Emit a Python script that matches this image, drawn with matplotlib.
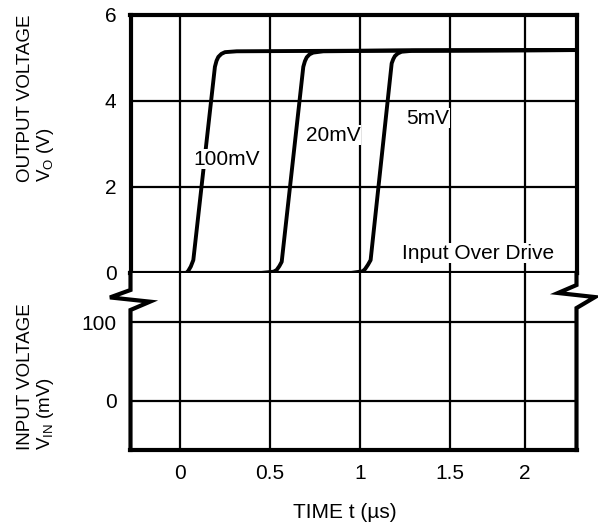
import matplotlib
matplotlib.use("Agg")
from matplotlib import pyplot as plt
from matplotlib.lines import Line2D

plt.rcParams['font.family'] = ['Liberation Sans', 'DejaVu Sans']
plt.rcParams['mathtext.default'] = 'regular'

# time ticks (the "2" grid line is drawn a little left of a uniform scale)
t_ticks = [0, 0.5, 1, 1.5, 1.917]
t_tick_labels = ['0', '0.5', '1', '1.5', '2']
vo_ticks = [0, 2, 4, 6]
vin_ticks = [0, 100]

# output response for each input over drive (t in us, Vo in V)
t_100mv = [-0.3, 0.035, 0.046, 0.060, 0.074, 0.194, 0.203, 0.213, 0.230, 0.250, 0.315, 0.8, 1.3, 2.3]
v_100mv = [0.0, 0.0, 0.05, 0.15, 0.30, 4.79, 4.93, 5.02, 5.09, 5.13, 5.15, 5.16, 5.17, 5.18]

t_20mv = [-0.3, 0.45, 0.52, 0.537, 0.552, 0.565, 0.685, 0.694, 0.704, 0.720, 0.740, 0.796, 1.3, 2.3]
v_20mv = [0.0, 0.0, 0.03, 0.07, 0.16, 0.26, 4.79, 4.92, 5.01, 5.08, 5.12, 5.15, 5.17, 5.18]

t_5mv = [-0.3, 0.95, 1.015, 1.028, 1.044, 1.059, 1.176, 1.185, 1.194, 1.210, 1.231, 1.287, 2.3]
v_5mv = [0.0, 0.0, 0.04, 0.09, 0.19, 0.30, 4.87, 4.97, 5.04, 5.10, 5.14, 5.16, 5.18]

curve_labels = ['100mV', '20mV', '5mV', 'Input Over Drive']
label_t = [0.258, 0.853, 1.378, 1.658]
label_v = [2.64, 3.20, 3.60, 0.46]

fig = plt.figure(figsize=(5.98, 5.22), dpi=100)
left, width = 130.5 / 598, 446 / 598
ax1 = fig.add_axes([left, 1 - 273 / 522, width, (273 - 14.7) / 522])
ax2 = fig.add_axes([left, 1 - 450 / 522, width, (450 - 273) / 522])

border_lw = 3.0
grid_lw = 1.6
fs = 15
label_fs = 13.5

for ax in (ax1, ax2):
    ax.set_xlim(-0.275, 2.2028)
    ax.set_xticks(t_ticks)
    ax.tick_params(length=0, labelsize=fs, pad=10)
    ax.grid(True, color='black', linewidth=grid_lw)
    ax.set_axisbelow(True)
    for sp in ax.spines.values():
        sp.set_linewidth(border_lw)

# Top panel: output voltage
ax1.set_ylim(0, 6)
ax1.set_yticks(vo_ticks)
ax1.tick_params(axis='x', labelbottom=False)
ax1.spines['bottom'].set_zorder(3)

for t, v in ((t_100mv, v_100mv), (t_20mv, v_20mv), (t_5mv, v_5mv)):
    ax1.plot(t, v, color='black', linewidth=2.8, solid_capstyle='butt', zorder=4)

for i in range(len(curve_labels)):
    ax1.text(label_t[i], label_v[i], curve_labels[i], fontsize=fs, ha='center', va='center',
             zorder=5, bbox=dict(facecolor='white', edgecolor='none', pad=0.5))

# Bottom panel: input voltage
ax2.set_ylim(-63, 163)
ax2.set_yticks(vin_ticks)
ax2.set_xticklabels(t_tick_labels)
ax2.spines['top'].set_visible(False)
ax2.spines['left'].set_visible(False)
ax2.spines['right'].set_visible(False)

# broken side borders with zig-zag marks
lx = [0, 0, -0.046, 0.0437, 0, 0]
ly = [1, 0.904, 0.862, 0.838, 0.791, 0]
rx = [1, 1, 0.9585, 1.0415, 1, 1]
ry = [1, 0.932, 0.887, 0.864, 0.802, 0]
for xs, ys in ((lx, ly), (rx, ry)):
    ax2.add_line(Line2D(xs, ys, transform=ax2.transAxes, color='black', linewidth=border_lw,
                        solid_joinstyle='miter', clip_on=False, zorder=5))

# axis titles
fig.text(36.5 / 598, 1 - 182 / 522, 'OUTPUT VOLTAGE\nV$_{O}$ (V)', fontsize=label_fs,
         rotation=90, ha='center', va='bottom', multialignment='left', linespacing=1.05)
fig.text(36.5 / 598, 1 - 450 / 522, 'INPUT VOLTAGE\nV$_{IN}$ (mV)', fontsize=label_fs,
         rotation=90, ha='center', va='bottom', multialignment='left', linespacing=1.05)
fig.text(345 / 598, 1 - 512 / 522, 'TIME t (\u00b5s)', fontsize=fs, ha='center', va='center')

fig.savefig('out.png', dpi=100)
